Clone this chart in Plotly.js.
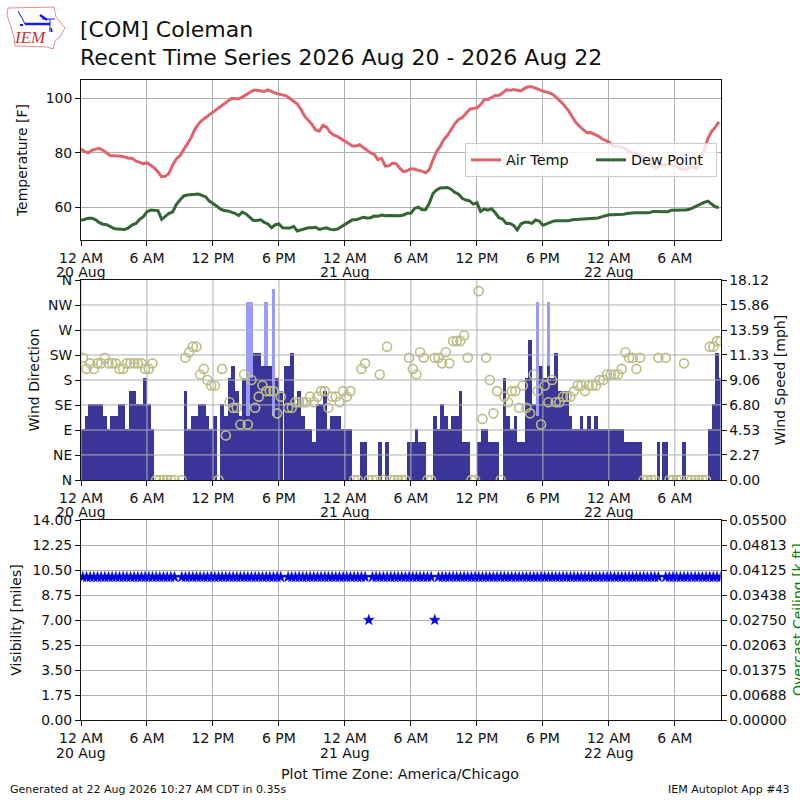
<!DOCTYPE html>
<html>
<head>
<meta charset="utf-8">
<title>[COM] Coleman</title>
<script src="https://cdn.plot.ly/plotly-3.0.1.min.js"></script>
<style>html,body{margin:0;padding:0;background:#fff}#chart{width:800px;height:800px}</style>
</head>
<body>
<div id="chart"></div>
<script>
// one observation every 20 minutes from 20 Aug 00:00
const airTemp = [
  81.4,80.5,80,81,81.4,81.7,81,80,79,79,79,78.8,78.5,78,78,77,76.5,76,76.4,75.5,
  74.5,73,71.3,71.4,72.5,75.5,77.8,79,81,83.5,85.5,88.5,90.5,92,93,94,95,96,97,98,
  99.2,100,100,99.8,100.5,101.3,102,103,103,102.8,102.6,103.2,102.5,102,101.6,101.3,101,100,99,98,
  96,93.5,92,90.5,88.5,88,90.2,89.5,87.5,86.5,86,85.2,84.5,83.5,82.5,82.5,83,82,81,80,
  79.5,77.5,78,75.2,75.3,76.3,76,74.3,73.1,73.5,74.2,74.1,73.6,73.3,72.7,73.9,77.4,80.4,82.5,85,
  86.5,88.6,90.8,92.3,93,94.5,96,96.3,96.6,97.7,99.6,99.6,100.4,101.1,101.2,102,103.2,103,103.3,103,
  102.8,103.7,104.3,104.3,103.9,103.3,102.7,102.4,102,101.2,100,98.7,97.2,95.5,93.3,91.2,89.8,88.6,87.4,87.5,
  86.9,86.3,85.3,84.7,84,82.7,82.3,82.1,82,81,80.3,79.8,79.3,78.8,78.3,77.1,75,74.4,75.5,75.7,
  75.7,75.5,75.3,74.6,73.9,73.9,74.6,74.9,74.2,78,81,85.3,87.8,89.4,91.4
];
const dewPoint = [
  55.2,55.7,56,56,55.4,54.4,53.8,53.6,52.9,52.2,52,51.9,51.9,52.5,53.6,54.1,55.6,56.6,58.4,59,
  59,58.8,55.6,56.8,57.8,58.3,61,62.7,64.2,64.5,64.7,64.8,64.9,64.4,63.9,62.3,61.5,60.5,59.4,58.8,
  58.7,58.3,57.8,57,58.3,57.6,56.3,55.2,55.2,55.4,54.5,53.9,52.5,53.6,53.9,52.5,52.4,52.4,53,51.3,
  51.7,52,52.5,52.5,52.7,51.9,52.2,52.5,51.9,51.8,52,52.9,53.8,54.5,55.4,55.4,56,56.3,56.1,56.2,
  56.8,56.7,57.2,56.9,57,57,57,56.9,57.2,57.8,57.8,59.6,60.1,59.1,59.1,61.5,65.1,66.4,67.1,67.2,
  67.3,66.6,65.5,64.8,63.3,62.7,62.4,61.2,61.7,58.5,59.4,59,59.5,58,56.2,55.7,54.1,54.1,53.4,51.7,
  53.9,54.5,54.5,54.1,55.4,55,53.4,53.9,54.4,55,55.1,55.1,55.1,55.1,55.4,55.5,55.5,55.6,55.7,56,
  56.1,56.1,56.5,56.9,57.3,57.3,57.3,57.4,57.5,57.7,57.9,58,58,58,58,58,58.5,58.5,58.5,58.5,
  58.4,58.9,59,59,59,59,59.3,59.9,60.6,61.3,61.8,62.3,61.2,60.2,59.9
];
// sustained wind, knots
const windKt = [
  4,5,6,6,6,6,5,4,5,5,6,6,4,7,7,6,6,8,6,4,
  0,0,0,0,0,0,0,0,7,4,5,5,6,6,5,4,5,0,6,5,
  8,9,7,5,8,5,8,10,10,9,9,9,5,8,7,9,9,10,6,7,
  5,4,4,3,6,6,7,4,5,5,5,4,4,4,0,0,3,3,0,0,
  0,3,0,3,0,0,0,0,0,3,3,4,3,3,0,0,5,4,6,5,
  4,5,5,7,3,3,0,0,3,4,4,3,3,3,0,8,5,4,5,3,
  3,8,11,6,5,9,8,9,8,10,7,7,7,5,4,4,5,4,5,4,
  5,4,4,4,4,4,4,4,3,3,3,3,3,0,0,0,0,3,3,3,
  0,0,0,0,3,0,0,0,0,0,0,4,6,10,8
];
// gust reports as [observation index, knots]
const gustObs = [[45,14],[46,14],[50,14],[52,15],[124,14],[127,14]];
// wind direction, degrees; null where the observation is missing
const windDir = [
  220,200,210,200,210,210,220,210,210,210,200,200,210,210,210,210,210,200,200,210,
  0,0,0,0,0,0,null,0,220,230,240,240,190,200,180,170,170,0,200,80,
  140,130,130,100,190,100,180,130,150,170,160,160,160,120,150,null,130,130,140,140,
  140,140,150,140,150,160,160,130,150,150,140,160,150,160,0,0,200,210,0,0,
  0,190,0,240,0,0,0,0,0,220,200,190,230,220,0,0,220,220,210,230,
  210,250,250,250,260,220,0,0,340,110,220,180,120,160,0,150,140,160,160,130,
  170,130,120,190,160,100,170,140,180,140,140,150,150,150,160,170,170,160,170,170,
  170,180,180,190,190,190,190,200,230,220,220,200,220,0,0,0,0,220,null,220,
  0,0,0,0,210,0,0,0,0,0,0,240,240,250,250
];
const visibility = [
  10,10,10,10,10,10,10,10,10,10,10,10,10,10,10,10,10,10,10,10,
  10,10,10,10,10,10,null,10,10,10,10,10,10,10,10,10,10,10,10,10,
  10,10,10,10,10,10,10,10,10,10,10,10,10,10,10,null,10,10,10,10,
  10,10,10,10,10,10,10,10,10,10,10,10,10,10,10,10,10,10,7,10,
  10,10,10,10,10,10,10,10,10,10,10,10,10,10,10,10,7,10,10,10,
  10,10,10,10,10,10,10,10,10,10,10,10,10,10,10,10,10,10,10,10,
  10,10,10,10,10,10,10,10,10,10,10,10,10,10,10,10,10,10,10,10,
  10,10,10,10,10,10,10,10,10,10,10,10,10,10,10,10,10,10,null,10,
  10,10,10,10,10,10,10,10,10,10,10,10,10,10,10
];
const ceiling = [];   // no overcast reports in the period

const hourTicks = ["2026-08-20 00:00","2026-08-20 06:00","2026-08-20 12:00","2026-08-20 18:00",
  "2026-08-21 00:00","2026-08-21 06:00","2026-08-21 12:00","2026-08-21 18:00",
  "2026-08-22 00:00","2026-08-22 06:00"];
const hourLabels = ["12 AM","6 AM","12 PM","6 PM","12 AM","6 AM","12 PM","6 PM","12 AM","6 AM"];
const dayTicks = ["2026-08-20 00:00","2026-08-21 00:00","2026-08-22 00:00"];
const dayLabels = ["20 Aug","21 Aug","22 Aug"];
const dirTicks = [0,45,90,135,180,225,270,315,360];
const dirLabels = ["N","NE","E","SE","S","SW","W","NW","N"];
const speedTicks = [0,2.27,4.53,6.80,9.06,11.33,13.59,15.86,18.12];
const visTicks = [0,1.75,3.5,5.25,7,8.75,10.5,12.25,14];
const ceilTicks = [0,0.006875,0.01375,0.020625,0.0275,0.034375,0.04125,0.048125,0.055];

const KT2MPH = 1.15078, OBS_MIN = 20;
const START = Date.UTC(2026,7,20);
const stamp = m => new Date(START + m*60000).toISOString().slice(0,19).replace("T"," ");
const obsTime = airTemp.map((_,i) => stamp(i*OBS_MIN));
const midTime = airTemp.map((_,i) => stamp(i*OBS_MIN+10));
const xRange = [stamp(0), stamp(58*60+9)];
const mph = k => k*KT2MPH;

// two observations came late, their bars only fill half a slot
const halfBars = [55,158];
const barWidth = windKt.map((_,i) => (halfBars.includes(i)?0.5:1)*OBS_MIN*60000);
const barOffset = windKt.map((_,i) => (halfBars.includes(i)?0.5:0)*OBS_MIN*60000);

const FONT = "DejaVu Sans, sans-serif";
const BLACK = "#111", GRID = "#b0b0b0";
const L = 81/800, R = 720.5/800;
const band = (top,bottom) => [1-bottom/800, 1-top/800];

const xAxis = (anchor,grid) => ({
  type:"date", domain:[L,R], range:xRange, anchor:anchor, tickmode:"array",
  tickvals:hourTicks, ticktext:hourLabels, ticks:"outside", ticklen:5, tickcolor:BLACK,
  showgrid:grid, gridcolor:GRID, gridwidth:1, showline:true, linecolor:BLACK, linewidth:1, mirror:true,
  tickfont:{family:FONT,size:14,color:BLACK}, zeroline:false, tickangle:0
});
const yAxis = (o) => Object.assign({
  ticks:"outside", ticklen:5, tickcolor:BLACK, showline:true, linecolor:BLACK, linewidth:1,
  tickfont:{family:FONT,size:13.9,color:BLACK}, zeroline:false, gridcolor:GRID, gridwidth:1, tickmode:"array"
}, o);
const axisTitle = (text,standoff) => ({text:text,font:{family:FONT,size:14,color:BLACK},standoff:standoff});

const traces = [
  {x:obsTime, y:airTemp, name:"Air Temp", mode:"lines", xaxis:"x", yaxis:"y",
   line:{color:"#df636b",width:3}},
  {x:obsTime, y:dewPoint, name:"Dew Point", mode:"lines", xaxis:"x", yaxis:"y",
   line:{color:"#336633",width:3}},
  {type:"bar", x:gustObs.map(g=>obsTime[g[0]]), y:gustObs.map(g=>mph(g[1])), name:"Gust",
   xaxis:"x2", yaxis:"y2", offset:0, width:OBS_MIN*60000, marker:{color:"#9999ff",line:{width:0}}, showlegend:false},
  {type:"bar", x:obsTime, y:windKt.map(mph), name:"Wind Speed", xaxis:"x2", yaxis:"y2",
   offset:barOffset, width:barWidth, marker:{color:"#3a3598",line:{width:0}}, showlegend:false},
  {x:midTime, y:windDir, name:"Wind Direction", mode:"markers", xaxis:"x2", yaxis:"y3", showlegend:false,
   marker:{symbol:"circle-open",size:9,color:"#bdbd85",line:{width:1.6,color:"#bdbd85"}}},
  {x:midTime, y:visibility, name:"Visibility", mode:"markers", xaxis:"x3", yaxis:"y4", showlegend:false,
   marker:{symbol:"star",size:8,color:"#0000d8",line:{width:0.6,color:"#0000ff"}}},
  {x:ceiling, y:ceiling, name:"Overcast Ceiling", mode:"markers", xaxis:"x3", yaxis:"y5", showlegend:false,
   marker:{color:"green"}}
];

// in the reference the wind panel grid sits on top of the bars
const gridShapes = hourTicks.map(t => ({type:"line",layer:"above",xref:"x2",yref:"y2 domain",x0:t,x1:t,y0:0,y1:1,
    line:{color:GRID,width:1}}))
  .concat(speedTicks.slice(1,-1).map(v => ({type:"line",layer:"above",xref:"x2 domain",yref:"y2",x0:0,x1:1,y0:v,y1:v,
    line:{color:GRID,width:1}})));

// IEM logo, drawn in page pixels
const pageX = x => x/800, pageY = y => 1-y/800;
const logoPath = pts => "M"+pts.map(p => pageX(p[0])+","+pageY(p[1])).join("L");
const pageLine = (pts,color,width) => ({type:"path",xref:"paper",yref:"paper",path:logoPath(pts),line:{color:color,width:width}});
const logoShapes = [
  pageLine([[8,8],[54,7],[56,17],[65,28],[60,37],[55,41],[53,49],[47,47],[15,46],[14,37],[10,24],[7,15],[8,8]],"#e88a90",1),
  pageLine([[25,24],[50,24]],"#1a1ae0",2.5),
  pageLine([[40,15],[47,20]],"#1a1ae0",2.5),
  pageLine([[50,19],[50,32]],"#1a1ae0",1),
  pageLine([[42,19],[55,19]],"#1a1ae0",1),
  pageLine([[18,11],[22,18],[25,24]],"#1a1ae0",1),
  pageLine([[20,25],[23,25]],"#1a1ae0",2),
  pageLine([[51,28],[52,32]],"#1a1ae0",1.5)
];

// date labels under the midnight ticks, one set per panel
const dateNotes = [["x",272],["x2",512],["x3",753]].flatMap(([ax,py]) => dayTicks.map((d,k) => ({
  xref:ax, yref:"paper", x:d, y:pageY(py), text:dayLabels[k], showarrow:false, xanchor:"center", yanchor:"middle",
  font:{family:FONT,size:14,color:BLACK}
})));

const layout = {
  width:800, height:800, margin:{l:0,r:0,t:0,b:0}, paper_bgcolor:"#fff", plot_bgcolor:"#fff",
  font:{family:FONT,size:14,color:BLACK}, barmode:"overlay", bargap:0,
  title:{text:"[COM] Coleman<br>Recent Time Series 2026 Aug 20 - 2026 Aug 22", x:80/800, xanchor:"left", xref:"paper",
    y:1-36.5/800, yanchor:"top", font:{family:FONT,size:22,color:BLACK}},
  legend:{orientation:"h", x:465/800, y:1-143/800, xanchor:"left", yanchor:"top", bgcolor:"rgba(255,255,255,0.8)",
    bordercolor:"#cccccc", borderwidth:1, font:{family:FONT,size:14.4,color:BLACK}, traceorder:"normal",
    entrywidth:80, entrywidthmode:"pixels"},
  xaxis:xAxis("y",true), xaxis2:xAxis("y2",false), xaxis3:xAxis("y4",true),
  yaxis:yAxis({domain:band(80,240), range:[48,106.8], tickvals:[60,80,100], ticktext:["60","80","100"], showgrid:true, side:"left",
    anchor:"x", mirror:true, title:axisTitle("Temperature [F]",14)}),
  yaxis2:yAxis({domain:band(280,480), range:[0,18.12], side:"right", anchor:"x2", showgrid:false,
    tickvals:speedTicks, ticktext:speedTicks.map(v=>v.toFixed(2)), title:axisTitle("Wind Speed [mph]",7)}),
  yaxis3:yAxis({domain:band(280,480), range:[0,360], side:"left", overlaying:"y2", anchor:"x2", showgrid:false,
    tickvals:dirTicks, ticktext:dirLabels, title:axisTitle("Wind Direction",5)}),
  yaxis4:yAxis({domain:band(520,720), range:[0,14], side:"left", anchor:"x3", showgrid:true,
    tickvals:visTicks, ticktext:visTicks.map(v=>v.toFixed(2)), title:axisTitle("Visibility [miles]",7)}),
  yaxis5:yAxis({domain:band(520,720), range:[0,0.055], side:"right", overlaying:"y4", anchor:"x3", showgrid:false,
    tickvals:ceilTicks, ticktext:ceilTicks.map(v=>v.toFixed(5))}),
  shapes:gridShapes.concat(logoShapes),
  annotations:dateNotes.concat([
    {xref:"paper",yref:"paper",x:400/800,y:pageY(774),text:"Plot Time Zone: America/Chicago",showarrow:false,xanchor:"center",yanchor:"middle",font:{family:FONT,size:14.3,color:BLACK}},
    {xref:"paper",yref:"paper",x:8/800,y:pageY(789),text:"Generated at 22 Aug 2026 10:27 AM CDT in 0.35s",showarrow:false,xanchor:"left",yanchor:"middle",font:{family:FONT,size:11,color:BLACK}},
    {xref:"paper",yref:"paper",x:792/800,y:pageY(789),text:"IEM Autoplot App #43",showarrow:false,xanchor:"right",yanchor:"middle",font:{family:FONT,size:11,color:BLACK}},
    {xref:"paper",yref:"paper",x:798/800,y:pageY(620),text:"Overcast Ceiling [k ft]",showarrow:false,textangle:-90,xanchor:"center",yanchor:"middle",font:{family:FONT,size:14,color:"green"}},
    {xref:"paper",yref:"paper",x:30/800,y:pageY(38),text:"<i>IEM</i>",showarrow:false,xanchor:"center",yanchor:"middle",font:{family:"Liberation Serif, serif",size:17,color:"#cc3333"}}
  ])
};

Plotly.newPlot("chart", traces, layout, {displayModeBar:false, responsive:false});
</script>
</body>
</html>
